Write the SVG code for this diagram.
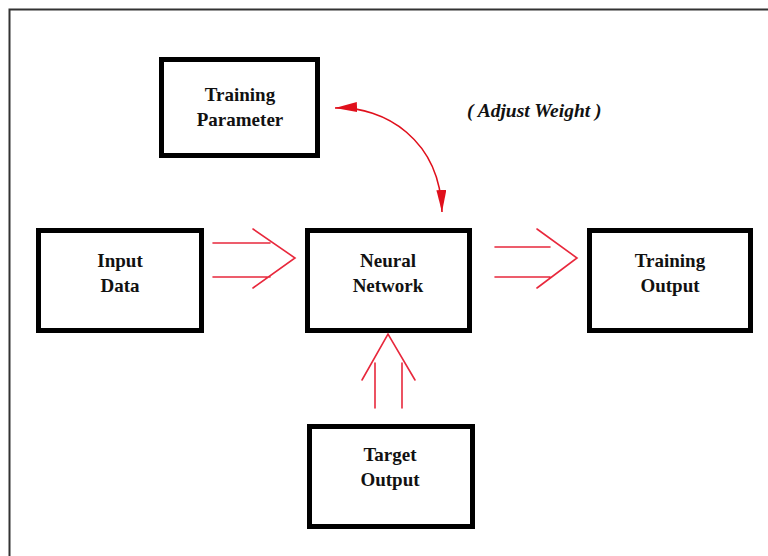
<svg xmlns="http://www.w3.org/2000/svg" width="768" height="556" viewBox="0 0 768 556">
  <style>
    .box { fill: #ffffff; stroke: #000000; stroke-width: 5; }
    .lbl { font-family: "Liberation Serif", "Times New Roman", serif; font-weight: bold; font-size: 19px; fill: #111111; text-anchor: middle; }
    .flow { fill: none; stroke: #e8283c; stroke-width: 1.6; stroke-linecap: round; }
    .adj { fill: none; stroke: #e0101c; stroke-width: 1.6; }
    .note { font-family: "Liberation Serif", "Times New Roman", serif; font-weight: bold; font-style: italic; font-size: 19.5px; fill: #111111; }
  </style>
  <defs>
    <marker id="tri" viewBox="0 0 22 10" refX="22" refY="5" markerWidth="22" markerHeight="10" markerUnits="userSpaceOnUse" orient="auto-start-reverse">
      <path d="M0 0 L22 5 L0 10 Z" fill="#e0101c"/>
    </marker>
  </defs>

  <rect x="0" y="0" width="768" height="556" fill="#ffffff"/>
  <!-- page frame -->
  <rect x="9.5" y="9.5" width="780" height="580" fill="none" stroke="#333333" stroke-width="2"/>

  <g id="training-parameter">
    <rect class="box" x="161.5" y="59.5" width="156" height="96"/>
    <text class="lbl" x="240" y="101">Training</text>
    <text class="lbl" x="240" y="126">Parameter</text>
  </g>

  <g id="input-data">
    <rect class="box" x="38.5" y="230.5" width="163" height="100"/>
    <text class="lbl" x="120" y="267">Input</text>
    <text class="lbl" x="120" y="292">Data</text>
  </g>

  <g id="neural-network">
    <rect class="box" x="307.5" y="230.5" width="162" height="100"/>
    <text class="lbl" x="388" y="267">Neural</text>
    <text class="lbl" x="388" y="292">Network</text>
  </g>

  <g id="training-output">
    <rect class="box" x="589.5" y="230.5" width="161" height="100"/>
    <text class="lbl" x="670" y="267">Training</text>
    <text class="lbl" x="670" y="292">Output</text>
  </g>

  <g id="target-output">
    <rect class="box" x="309.5" y="426.5" width="163" height="100"/>
    <text class="lbl" x="390" y="461">Target</text>
    <text class="lbl" x="390" y="486">Output</text>
  </g>

  <text class="note" x="467" y="117">( Adjust Weight )</text>

  <g id="connectors">
    <!-- Input Data => Neural Network -->
    <path class="flow" d="M213 243 H270 M213 277 H270 M253 229 L295 258 L253 288"/>
    <!-- Neural Network => Training Output -->
    <path class="flow" d="M495 247 H550 M495 277 H550 M537 229 L577 258 L537 288"/>
    <!-- Target Output => Neural Network -->
    <path class="flow" d="M375 408 V363 M402 408 V363 M362 380 L388 334 L415 380"/>
    <!-- weight adjustment loop -->
    <path class="adj" d="M335 108 C385 106 440 140 442 212" marker-start="url(#tri)" marker-end="url(#tri)"/>
  </g>
</svg>
